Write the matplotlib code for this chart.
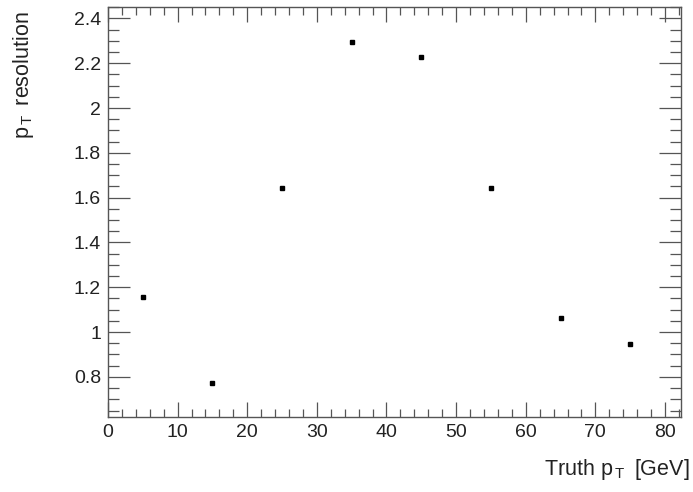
import matplotlib
matplotlib.use("Agg")
import matplotlib.pyplot as plt
from matplotlib.ticker import MultipleLocator, FuncFormatter

plt.rcParams['font.family'] = ['Liberation Sans', 'DejaVu Sans']
plt.rcParams['mathtext.fontset'] = 'custom'
plt.rcParams['mathtext.rm'] = 'Liberation Sans'

truth_pt = [5, 15, 25, 35, 45, 55, 65, 75]
resolution = [1.156, 0.773, 1.645, 2.296, 2.228, 1.645, 1.063, 0.946]

W, H = 693, 492
fig = plt.figure(figsize=(W / 100, H / 100), dpi=100)
ax = fig.add_axes([108 / W, 1 - 417 / H, (681 - 108) / W, (417 - 7) / H])

ax.plot(truth_pt, resolution, linestyle='none', marker='s', markersize=3.4,
        color='black')

ax.set_xlim(0, 82.3)
ax.set_ylim(0.621, 2.451)

ax.xaxis.set_major_locator(MultipleLocator(10))
ax.xaxis.set_minor_locator(MultipleLocator(2))
ax.yaxis.set_major_locator(MultipleLocator(0.2))
ax.yaxis.set_minor_locator(MultipleLocator(0.05))

def yfmt(v, pos):
    s = f"{v:.1f}"
    if s.endswith(".0"):
        s = s[:-2]
    return s
ax.yaxis.set_major_formatter(FuncFormatter(yfmt))

ax.tick_params(which='both', direction='in', top=True, right=True,
               color='#555555', width=0.9, labelsize=14, labelcolor='#222222')
ax.tick_params(axis='x', which='major', length=11, pad=5)
ax.tick_params(axis='x', which='minor', length=5.5)
ax.tick_params(axis='y', which='major', length=16, pad=5)
ax.tick_params(axis='y', which='minor', length=8)

for sp in ax.spines.values():
    sp.set_color('#555555')
    sp.set_linewidth(1.0)

fig.text(690 / W, 1 - 475 / H, r'Truth p$_{\,\mathrm{T}}\,$ [GeV]', fontsize=15.5,
         color='#222222', ha='right', va='baseline')
fig.text(24 / W, 1 - 11 / H, r'p$_{\,\mathrm{T}}\,$ resolution', fontsize=15.5,
         color='#222222', ha='center', va='top', rotation=90)

fig.savefig('out.png', dpi=100)
